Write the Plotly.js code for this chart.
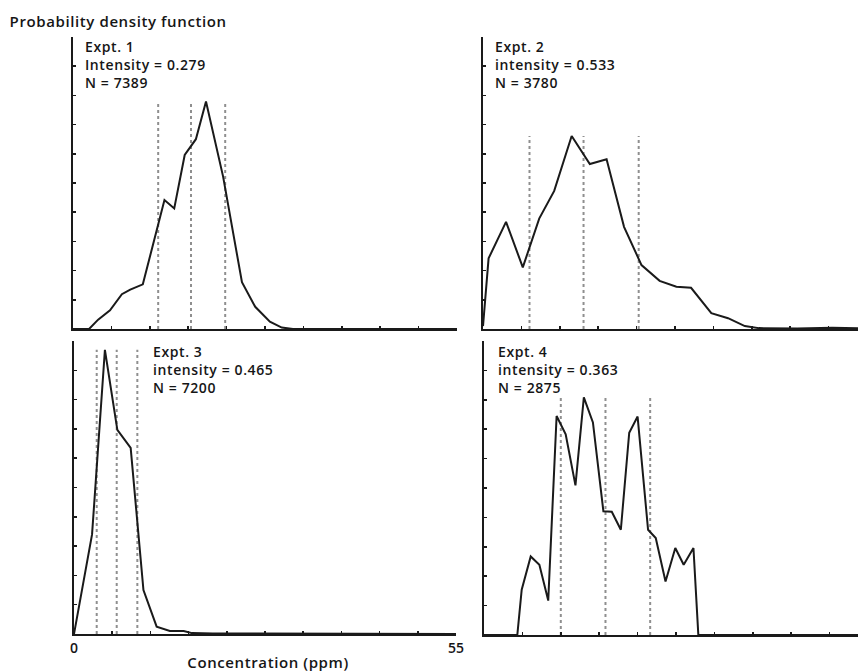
<!DOCTYPE html>
<html>
<head>
<meta charset="utf-8">
<script src="https://cdn.plot.ly/plotly-3.0.1.min.js"></script>
<style>
html, body { margin:0; padding:0; overflow:hidden; background:#fff; }
#chart { width:870px; height:672px; }
#chart text.annotation-text { letter-spacing: 0.6px; }
</style>
</head>
<body>
<div id="chart"></div>
<script>
// ---- data (concentration in ppm, density in relative axis units 0-10) ----
const xMax = 55;
const xTickLabels = ['0','','','','','','','','','','55'];

const expt1X = [0, 2.3, 3.6, 5.3, 7.0, 8.2, 10.0, 13.1, 14.5, 16.0, 17.6, 19.05, 21.5, 24.2, 26.1, 28.2, 29.9, 31.5, 55];
const expt1Y = [0, 0, 0.32, 0.64, 1.19, 1.35, 1.53, 4.42, 4.13, 5.96, 6.5, 7.79, 5.22, 1.6, 0.76, 0.25, 0.05, 0, 0];
const expt1Q = [12.2, 16.9, 21.8];

const expt2X = [0, 0.8, 3.3, 5.7, 8.05, 10.2, 12.7, 15.3, 17.7, 20.2, 22.7, 25.3, 27.7, 29.8, 32.7, 35.1, 37.5, 39.5, 45, 50, 55];
const expt2Y = [0.1, 2.42, 3.67, 2.11, 3.78, 4.73, 6.61, 5.65, 5.81, 3.5, 2.19, 1.65, 1.45, 1.41, 0.54, 0.37, 0.1, 0.03, 0.02, 0.04, 0.02];
const expt2Q = [6.66, 14.4, 22.3];

const expt3X = [0, 2.6, 4.45, 6.24, 8.16, 10.0, 11.9, 13.8, 15.8, 17.0, 20, 55];
const expt3Y = [0, 3.4, 9.7, 6.97, 6.35, 1.5, 0.25, 0.1, 0.1, 0.03, 0.02, 0];
const expt3Q = [3.27, 6.15, 9.12];

const expt4X = [0, 4.77, 5.4, 6.69, 7.93, 9.2, 10.4, 11.7, 13.1, 14.3, 15.6, 17.1, 18.3, 19.6, 20.8, 22.0, 23.5, 24.6, 26.0, 27.4, 28.6, 30.0, 30.7, 55];
const expt4Y = [0, 0, 1.54, 2.67, 2.39, 1.17, 7.45, 6.83, 5.09, 8.08, 7.23, 4.21, 4.19, 3.58, 6.88, 7.43, 3.58, 3.3, 1.82, 2.96, 2.39, 2.96, 0, 0];
const expt4Q = [11.0, 17.4, 23.8];

const exptNames = ['Expt. 1', 'Expt. 2', 'Expt. 3', 'Expt. 4'];
const intensityLabels = ['Intensity', 'intensity', 'intensity', 'intensity'];
const intensities = ['0.279', '0.533', '0.465', '0.363'];
const counts = ['7389', '3780', '7200', '2875'];

const yTitle = 'Probability density function';
const xTitle = 'Concentration (ppm)';

// ---- build ----
const W = 870, H = 672;
const FONT = 'Open Sans';
const INK = '#161616';
const series = [
  {x: expt1X, y: expt1Y, q: expt1Q},
  {x: expt2X, y: expt2Y, q: expt2Q},
  {x: expt3X, y: expt3Y, q: expt3Q},
  {x: expt4X, y: expt4Y, q: expt4Q}
];
const suffix = ['', '2', '3', '4'];

const traces = [];
series.forEach((s, i) => {
  const xa = 'x' + suffix[i], ya = 'y' + suffix[i];
  const top = Math.max(...s.y);
  s.q.forEach(q => {
    traces.push({x: [q, q], y: [0, top], xaxis: xa, yaxis: ya, mode: 'lines',
      line: {color: '#8f8f8f', width: 2, dash: 'dot'}, hoverinfo: 'skip', cliponaxis: false});
  });
  traces.push({x: s.x, y: s.y, xaxis: xa, yaxis: ya, mode: 'lines',
    line: {color: '#1a1a1a', width: 2}, cliponaxis: false});
});

// panel pixel boxes [left, right, top, bottom]
const boxes = [[73, 457, 37, 329], [483, 867, 37, 329], [74, 456, 341, 634], [484, 868, 341, 635]];

const layout = {
  width: W, height: H,
  margin: {l: 0, r: 0, t: 0, b: 0},
  paper_bgcolor: '#fff', plot_bgcolor: '#fff',
  showlegend: false,
  font: {family: FONT, color: INK, size: 14},
  annotations: []
};

const tickVals = xTickLabels.map((_, k) => k * xMax / 10);
boxes.forEach((b, i) => {
  const xa = 'xaxis' + suffix[i], ya = 'yaxis' + suffix[i];
  layout[xa] = {
    domain: [b[0] / W, b[1] / W], anchor: 'y' + suffix[i], range: [0, xMax],
    showline: true, linecolor: '#1a1a1a', linewidth: 2, showgrid: false, zeroline: false,
    ticks: 'inside', ticklen: 3, tickwidth: 1.5, tickcolor: '#1a1a1a',
    tickmode: 'array', tickvals: tickVals,
    ticktext: i === 2 ? xTickLabels : xTickLabels.map(() => ''),
    showticklabels: i === 2, tickfont: {size: 14, family: FONT, color: INK, weight: 600}
  };
  layout[ya] = {
    domain: [1 - b[3] / H, 1 - b[2] / H], anchor: 'x' + suffix[i], range: [0, 10],
    showline: true, linecolor: '#1a1a1a', linewidth: 2, showgrid: false, zeroline: false,
    ticks: 'inside', ticklen: 3, tickwidth: 1.5, tickcolor: '#1a1a1a', dtick: 1,
    showticklabels: false
  };
});

// left x and vertical centre of each panel's three-line label block
const textPos = [[83, 64], [493, 64], [151, 369], [496, 369]];
textPos.forEach((p, i) => {
  layout.annotations.push({
    xref: 'paper', yref: 'paper', x: p[0] / W, y: 1 - p[1] / H,
    xanchor: 'left', yanchor: 'middle', align: 'left', showarrow: false,
    text: exptNames[i] + '<br>' + intensityLabels[i] + ' = ' + intensities[i] + '<br>N = ' + counts[i],
    font: {size: 14, family: FONT, color: INK, weight: 600}
  });
});
layout.annotations.push({
  xref: 'paper', yref: 'paper', x: 16 / W, y: 1 - 21 / H, xanchor: 'left', yanchor: 'middle',
  showarrow: false, text: yTitle, font: {size: 15, family: FONT, color: INK, weight: 600}
});
layout.annotations.push({
  xref: 'paper', yref: 'paper', x: 268 / W, y: 1 - 662 / H, xanchor: 'center', yanchor: 'middle',
  showarrow: false, text: xTitle, font: {size: 15, family: FONT, color: INK, weight: 600}
});

Plotly.newPlot('chart', traces, layout, {displayModeBar: false, staticPlot: true});
</script>
</body>
</html>
